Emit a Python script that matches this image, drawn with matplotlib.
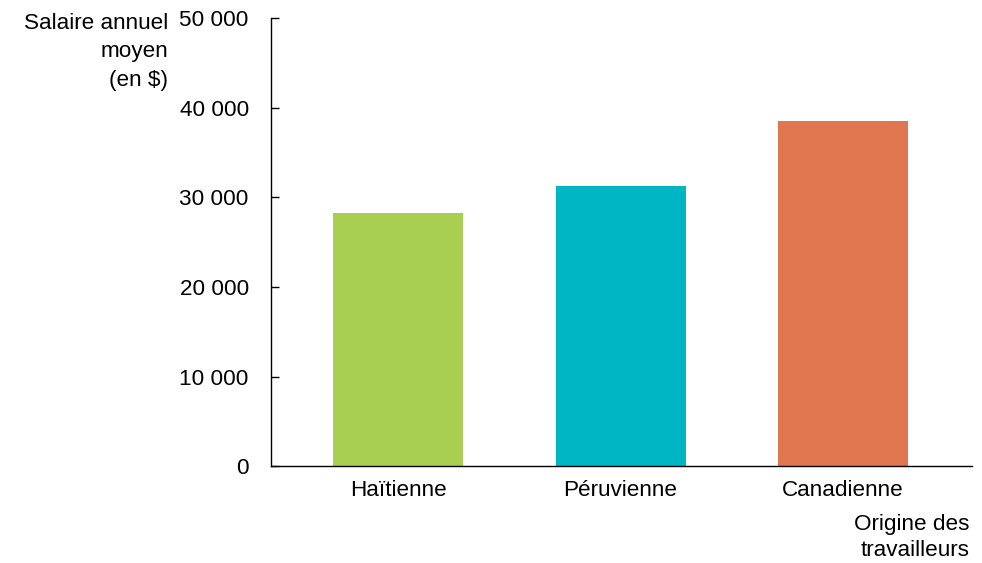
import numpy as np
import matplotlib.pyplot as plt

# data
origines = ['Haïtienne', 'Péruvienne', 'Canadienne']
salaires = [28200, 31250, 38500]
couleurs = ['#A8CF51', '#00B6C4', '#E07650']
yticks = [0, 10000, 20000, 30000, 40000, 50000]
ytick_labels = ['0', '10 000', '20 000', '30 000', '40 000', '50 000']

plt.rcParams['font.family'] = ['Liberation Sans', 'DejaVu Sans']
fs = 16.2

fig = plt.figure(figsize=(9.82, 5.63), dpi=100)
ax = fig.add_axes([0.276, 0.172, 0.714, 0.796])

x = np.arange(len(origines))
ax.bar(x, salaires, width=0.585, color=couleurs)

ax.set_xlim(-0.571, 2.58)
ax.set_ylim(0, 50000)
ax.set_xticks(x)
ax.set_xticklabels(origines, fontsize=fs)
ax.set_yticks(yticks)
ax.set_yticklabels(ytick_labels, fontsize=fs)

ax.spines['top'].set_visible(False)
ax.spines['right'].set_visible(False)
ax.spines['left'].set_linewidth(1.0)
ax.spines['bottom'].set_linewidth(1.0)
ax.tick_params(axis='y', direction='in', length=6, width=1.0, pad=16)
ax.tick_params(axis='x', length=0, pad=10)

fig.text(168 / 982, 1 - 13 / 563, 'Salaire annuel\nmoyen\n(en $)',
         ha='right', va='top', fontsize=fs, linespacing=1.46)
fig.text(970 / 982, 1 - 514 / 563, 'Origine des\ntravailleurs',
         ha='right', va='top', fontsize=fs, linespacing=1.3)

fig.savefig('out.png', dpi=100)
